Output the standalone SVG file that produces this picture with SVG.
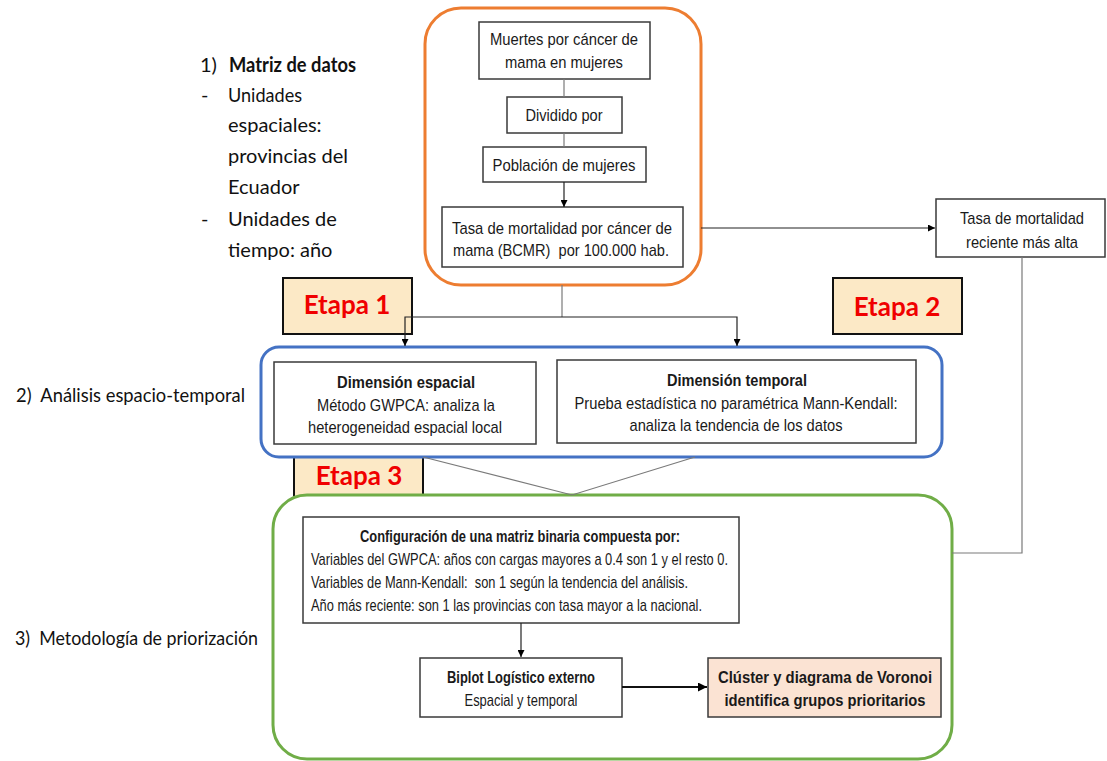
<svg xmlns="http://www.w3.org/2000/svg" width="1107" height="761" viewBox="0 0 1107 761">
  <defs>
    <marker id="arr" viewBox="0 0 10 10" refX="10" refY="5" markerWidth="7" markerHeight="7" markerUnits="userSpaceOnUse" orient="auto">
      <path d="M0,0 L10,5 L0,10 z" fill="#000"/>
    </marker>
    <marker id="arrBig" viewBox="0 0 10 10" refX="10" refY="5" markerWidth="9" markerHeight="9" markerUnits="userSpaceOnUse" orient="auto">
      <path d="M0,0 L10,5 L0,10 z" fill="#000"/>
    </marker>
  </defs>
  <style>
    .side { font-family: Lato, "Open Sans", "Liberation Sans", sans-serif; font-size: 20px; fill: #111; }
    .side-b { font-weight: bold; }
    .box { fill: #fff; stroke: #3a3a3a; stroke-width: 1.5; }
    .t { font-family: "Liberation Sans", Arial, sans-serif; font-size: 17px; fill: #1a1a1a; text-anchor: middle; }
    .tb { font-weight: bold; }
    .tl { font-family: "Liberation Sans", Arial, sans-serif; font-size: 17px; fill: #1a1a1a; }
    .etapa-box { fill: #FCE9C6; stroke: #111; stroke-width: 2; }
    .etapa { font-family: Lato, "Open Sans", "Liberation Sans", sans-serif; font-size: 26px; font-weight: bold; fill: #F00000; text-anchor: middle; }
    .line { fill: none; stroke: #7a7a7a; stroke-width: 1.2; }
    .arrow { fill: none; stroke: #222; stroke-width: 1.2; marker-end: url(#arr); }
  </style>

  <rect width="1107" height="761" fill="#fff"/>

  <!-- Side headings -->
  <g id="label-matriz">
    <text class="side" x="200" y="72">1)</text>
    <text class="side side-b" x="229" y="72" textLength="127" lengthAdjust="spacingAndGlyphs">Matriz de datos</text>
    <text class="side" x="201" y="102">-</text>
    <text class="side" x="228" y="102" textLength="74" lengthAdjust="spacingAndGlyphs">Unidades</text>
    <text class="side" x="228" y="132">espaciales:</text>
    <text class="side" x="228" y="163">provincias del</text>
    <text class="side" x="228" y="194">Ecuador</text>
    <text class="side" x="201" y="226">-</text>
    <text class="side" x="228" y="226">Unidades de</text>
    <text class="side" x="228" y="257">tiempo: año</text>
  </g>
  <g id="label-analisis">
    <text class="side" x="16" y="402" textLength="229" lengthAdjust="spacingAndGlyphs" xml:space="preserve">2)  Análisis espacio-temporal</text>
  </g>
  <g id="label-metodologia">
    <text class="side" x="15" y="645" textLength="243" lengthAdjust="spacingAndGlyphs" xml:space="preserve">3)  Metodología de priorización</text>
  </g>

  <!-- Etapa 3 sits behind the blue and green frames -->
  <g id="etapa3">
    <rect class="etapa-box" x="294" y="440" width="129" height="62"/>
    <text class="etapa" x="359" y="485">Etapa 3</text>
  </g>

  <!-- Frame 1: data matrix -->
  <g id="frame-datos">
    <rect x="425" y="8" width="276" height="277" rx="36" ry="36" fill="none" stroke="#ED7D31" stroke-width="3"/>
  </g>
  <g id="n-muertes">
    <rect class="box" x="479" y="22" width="171" height="57"/>
    <text class="t" x="564" y="45" textLength="148" lengthAdjust="spacingAndGlyphs">Muertes por cáncer de</text>
    <text class="t" x="564" y="68" textLength="118" lengthAdjust="spacingAndGlyphs">mama en mujeres</text>
  </g>
  <g id="n-dividido">
    <rect class="box" x="507" y="97" width="115" height="36"/>
    <text class="t" x="564" y="121" textLength="77" lengthAdjust="spacingAndGlyphs">Dividido por</text>
  </g>
  <g id="n-poblacion">
    <rect class="box" x="483" y="147" width="163" height="35"/>
    <text class="t" x="564" y="171" textLength="143" lengthAdjust="spacingAndGlyphs">Población de mujeres</text>
  </g>
  <g id="n-tasa">
    <rect class="box" x="442" y="207" width="241" height="60"/>
    <text class="t" x="562" y="234" textLength="220" lengthAdjust="spacingAndGlyphs">Tasa de mortalidad por cáncer de</text>
    <text class="t" x="561" y="256" textLength="216" lengthAdjust="spacingAndGlyphs" xml:space="preserve">mama (BCMR)  por 100.000 hab.</text>
  </g>

  <g id="n-reciente">
    <rect class="box" x="936" y="199" width="169" height="58"/>
    <text class="t" x="1022" y="224" textLength="124" lengthAdjust="spacingAndGlyphs">Tasa de mortalidad</text>
    <text class="t" x="1022" y="248" textLength="112" lengthAdjust="spacingAndGlyphs">reciente más alta</text>
  </g>

  <g id="etapa1">
    <rect class="etapa-box" x="283" y="278" width="129" height="56"/>
    <text class="etapa" x="347" y="314">Etapa 1</text>
  </g>
  <g id="etapa2">
    <rect class="etapa-box" x="833" y="278" width="129" height="56"/>
    <text class="etapa" x="897" y="316">Etapa 2</text>
  </g>

  <!-- Frame 2: spatio-temporal analysis -->
  <g id="frame-analisis">
    <rect x="261" y="347" width="681" height="110" rx="18" ry="18" fill="#fff" stroke="#4472C4" stroke-width="3"/>
  </g>
  <g id="n-espacial">
    <rect class="box" x="274" y="362" width="262" height="82"/>
    <text class="t tb" x="406" y="388" textLength="138" lengthAdjust="spacingAndGlyphs">Dimensión espacial</text>
    <text class="t" x="406" y="411" textLength="178" lengthAdjust="spacingAndGlyphs">Método GWPCA: analiza la</text>
    <text class="t" x="405" y="433" textLength="194" lengthAdjust="spacingAndGlyphs">heterogeneidad espacial local</text>
  </g>
  <g id="n-temporal">
    <rect class="box" x="557" y="360" width="359" height="83"/>
    <text class="t tb" x="737" y="386" textLength="140" lengthAdjust="spacingAndGlyphs">Dimensión temporal</text>
    <text class="t" x="736" y="409" textLength="323" lengthAdjust="spacingAndGlyphs">Prueba estadística no paramétrica Mann-Kendall:</text>
    <text class="t" x="736" y="431" textLength="213" lengthAdjust="spacingAndGlyphs">analiza la tendencia de los datos</text>
  </g>

  <!-- Frame 3: prioritisation -->
  <g id="frame-priorizacion">
    <rect x="273" y="495" width="679" height="264" rx="34" ry="34" fill="#fff" stroke="#70AD47" stroke-width="3"/>
  </g>
  <g id="n-matriz-binaria">
    <rect class="box" x="303" y="517" width="436" height="106"/>
    <text class="t tb" x="520" y="542" textLength="320" lengthAdjust="spacingAndGlyphs">Configuración de una matriz binaria compuesta por:</text>
    <text class="tl" x="311" y="565" textLength="417" lengthAdjust="spacingAndGlyphs">Variables del GWPCA: años con cargas mayores a 0.4 son 1 y el resto 0.</text>
    <text class="tl" x="311" y="588" textLength="377" lengthAdjust="spacingAndGlyphs" xml:space="preserve">Variables de Mann-Kendall:  son 1 según la tendencia del análisis.</text>
    <text class="tl" x="311" y="611" textLength="391" lengthAdjust="spacingAndGlyphs">Año más reciente: son 1 las provincias con tasa mayor a la nacional.</text>
  </g>
  <g id="n-biplot">
    <rect class="box" x="420" y="658" width="202" height="59"/>
    <text class="t tb" x="521" y="683" textLength="148" lengthAdjust="spacingAndGlyphs">Biplot Logístico externo</text>
    <text class="t" x="521" y="706" textLength="113" lengthAdjust="spacingAndGlyphs">Espacial y temporal</text>
  </g>
  <g id="n-cluster">
    <rect x="708" y="658" width="233" height="59" fill="#FBE3D3" stroke="#3a3a3a" stroke-width="1.5"/>
    <text class="t tb" x="825" y="683" textLength="214" lengthAdjust="spacingAndGlyphs">Clúster y diagrama de Voronoi</text>
    <text class="t tb" x="825" y="706" textLength="201" lengthAdjust="spacingAndGlyphs">identifica grupos prioritarios</text>
  </g>

  <!-- Connectors -->
  <g id="connectors">
    <line class="line" x1="564" y1="79" x2="564" y2="97" stroke="#333"/>
    <line class="line" x1="564" y1="133" x2="564" y2="147" stroke="#333"/>
    <line class="arrow" x1="564" y1="182" x2="564" y2="207"/>
    <line class="arrow" x1="701" y1="228" x2="935" y2="228"/>
    <polyline class="line" points="562,285 562,317"/>
    <polyline class="arrow" points="562,317 405,317 405,346"/>
    <polyline class="arrow" points="562,317 737,317 737,346"/>
    <polyline class="line" points="1022,257 1022,553 952,553"/>
    <polyline class="line" points="423,457 572,495 695,457" stroke="#555"/>
    <line class="arrow" x1="521" y1="623" x2="521" y2="657"/>
    <line x1="622" y1="687" x2="707" y2="687" stroke="#111" stroke-width="1.8" marker-end="url(#arrBig)"/>
  </g>
</svg>
